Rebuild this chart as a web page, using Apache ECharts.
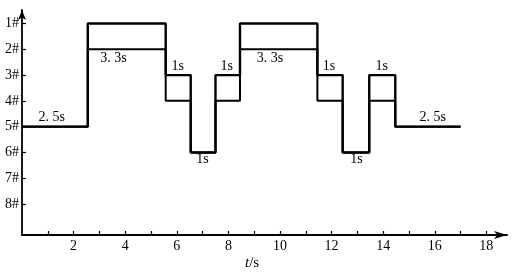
<!DOCTYPE html>
<html>
<head>
<meta charset="utf-8">
<script src="https://cdn.jsdelivr.net/npm/echarts@6/dist/echarts.min.js"></script>
<style>html,body{margin:0;padding:0;background:#fff;}#c{width:517px;height:273px;}</style>
</head>
<body>
<div id="c"></div>
<script>
// Switching times (s)
const times = [0, 2.55, 5.57, 6.54, 7.5, 8.45, 11.45, 12.43, 13.46, 14.47, 17.0];
// Levels (#) for the two traces, one per time point
const upperLevels = [5, 1, 3, 6, 3, 1, 3, 6, 3, 5, 5];
const lowerLevels = [5, 2, 4, 6, 4, 2, 4, 6, 4, 5, 5];
// Y tick labels
const levelTicks = [1, 2, 3, 4, 5, 6, 7, 8];
// X ticks and labels
const timeMinorTicks = [1, 2, 3, 4, 5, 6, 7, 8, 9, 10, 11, 12, 13, 14, 15, 16, 17, 18];
const timeTicks = [2, 4, 6, 8, 10, 12, 14, 16, 18];
// Duration annotations
const noteText = ['2. 5s', '3. 3s', '1s', '1s', '1s', '3. 3s', '1s', '1s', '1s', '2. 5s'];
const noteX = [1.15, 3.55, 6.04, 7.0, 7.94, 9.61, 11.9, 12.97, 13.94, 15.92];
const noteY = [5, 2, 3, 6, 3, 2, 3, 6, 3, 5];

const FONT = '"Liberation Serif", "DejaVu Serif", serif';
const INK = '#000';

const chart = echarts.init(document.getElementById('c'), null, {renderer: 'canvas'});

const toPts = lv => times.map((t, i) => [t, lv[i]]);

const notes = noteText.map((txt, i) => {
  const below = noteY[i] === 2 || noteY[i] === 6;
  return {
    value: [noteX[i], noteY[i]],
    label: {
      show: true,
      formatter: txt,
      color: INK, opacity: 1,
      fontFamily: FONT, fontSize: 14,
      position: below ? 'bottom' : 'top',
      distance: below ? (noteY[i] === 6 ? 0 : 2) : 2
    }
  };
});

chart.setOption({
  animation: false,
  backgroundColor: '#fff',
  grid: {left: 22, right: 10, top: 10, bottom: 38, containLabel: false},
  xAxis: {
    type: 'value', min: 0, max: 18.8,
    axisLine: {show: true, lineStyle: {color: INK, width: 1.8}, symbol: ['none', 'arrow'], symbolSize: [6, 13]},
    axisTick: {show: true, inside: true, length: 4, customValues: timeMinorTicks, lineStyle: {color: INK, width: 1.2}},
    axisLabel: {
      margin: 4, color: INK, fontFamily: FONT, fontSize: 14,
      customValues: timeTicks
    },
    splitLine: {show: false}
  },
  yAxis: {
    type: 'value', inverse: true, min: 0.477, max: 9.2,
    axisLine: {show: true, lineStyle: {color: INK, width: 1.8}, symbol: ['none', 'arrow'], symbolSize: [6, 10]},
    axisTick: {show: true, inside: true, length: 4, customValues: levelTicks, lineStyle: {color: INK, width: 1.2}},
    axisLabel: {
      margin: 3, color: INK, fontFamily: FONT, fontSize: 14,
      customValues: levelTicks,
      formatter: v => v + '#'
    },
    splitLine: {show: false}
  },
  series: [
    {
      type: 'line', step: 'end', data: toPts(lowerLevels), symbol: 'none',
      lineStyle: {color: INK, width: 2}, z: 3
    },
    {
      type: 'line', step: 'end', data: toPts(upperLevels), symbol: 'none',
      lineStyle: {color: INK, width: 2.4}, z: 4
    },
    {
      type: 'scatter', symbolSize: 0, data: notes, silent: true,
      itemStyle: {color: INK, opacity: 1}
    }
  ],
  graphic: [{
    type: 'text', left: 245, top: 256,
    style: {
      text: '{i|t}/s',
      rich: {i: {fontStyle: 'italic', fontFamily: FONT, fontSize: 15, fill: INK}},
      fontFamily: FONT, fontSize: 15, fill: INK
    }
  }]
});
</script>
</body>
</html>
